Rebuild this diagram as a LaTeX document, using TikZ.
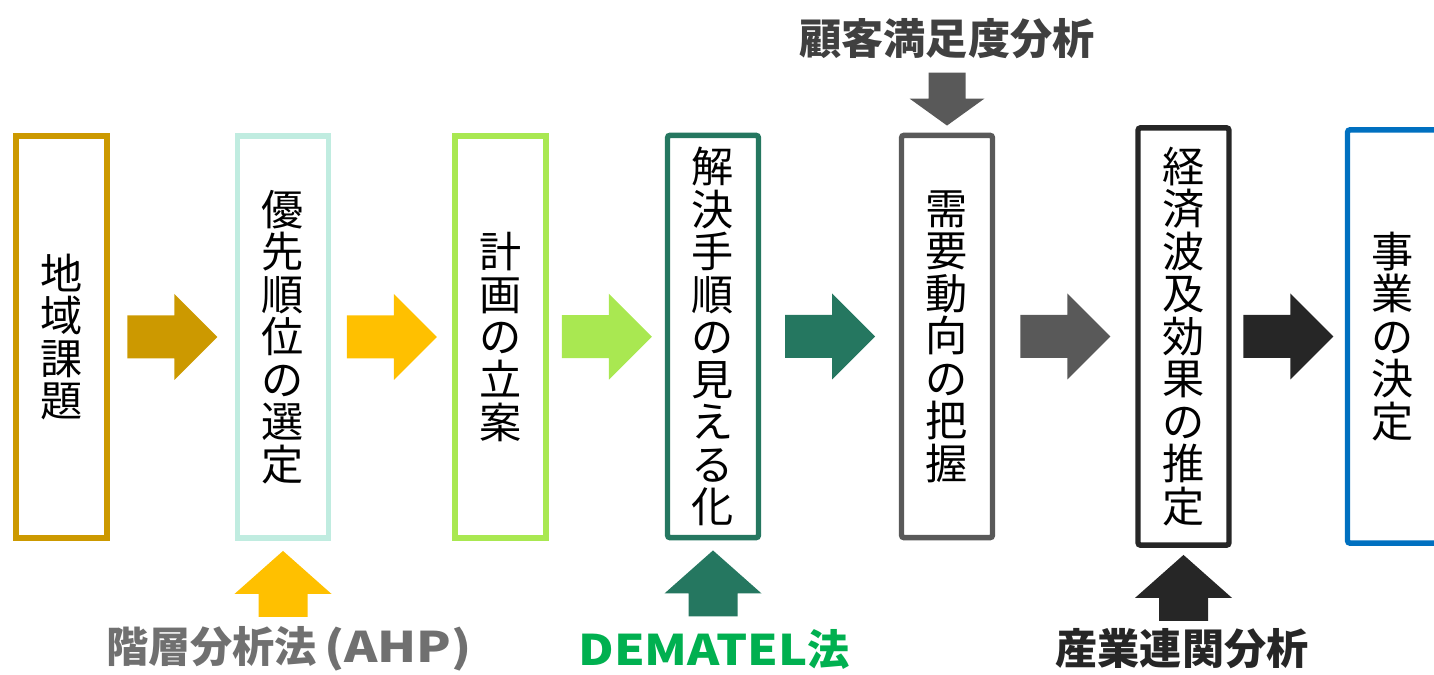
\documentclass[tikz,border=0pt]{standalone}
\usepackage{fontspec}
\setmainfont{Noto Sans CJK JP}
\usepackage{tikz}
\usepackage{xcolor}
\usepackage{graphicx}
\usetikzlibrary{calc,positioning}
\definecolor{boxgold}{HTML}{CC9900}
\definecolor{boxmint}{HTML}{C0ECE0}
\definecolor{boxamber}{HTML}{FFC000}
\definecolor{boxlime}{HTML}{A9E851}
\definecolor{boxpine}{HTML}{257760}
\definecolor{boxslate}{HTML}{595959}
\definecolor{boxink}{HTML}{262626}
\definecolor{boxazure}{HTML}{0070C0}
\definecolor{ahpgray}{HTML}{707070}
\definecolor{demgreen}{HTML}{00B050}
\definecolor{csgray}{HTML}{404040}
\tikzset{
	rarrow/.pic={\fill[#1] (-45,-21.5) -- (2,-21.5) -- (2,-43) -- (45,0) -- (2,43) -- (2,21.5) -- (-45,21.5) -- cycle;},
	uarrow/.pic={\fill[#1] (-24.5,23) -- (-24.5,0) -- (-48.5,0) -- (0,-43) -- (48.5,0) -- (24.5,0) -- (24.5,23) -- cycle;},
	darrow/.pic={\fill[#1] (-18.5,-26) -- (-18.5,0) -- (-37.5,0) -- (0,27) -- (37.5,0) -- (18.5,0) -- (18.5,-26) -- cycle;},
}
\begin{document}
\begin{tikzpicture}[x=0.02cm,y=-0.02cm,
		stepbox/.style={draw=#1,line width=3.1pt,minimum width=1.82cm,minimum height=8.05cm,inner sep=0pt,align=center,font=\fontsize{24}{24.2}\selectfont},
		method/.style={inner sep=0pt,font=\fontsize{24}{28}\selectfont\bfseries}]
	\useasboundingbox (0,0) rectangle (1434,675);
	\node[stepbox=boxgold] (b1) at (61.5,337) {地\\域\\課\\題};
	\node[stepbox=boxmint] (b2) at (283,337) {優\\先\\順\\位\\の\\選\\定};
	\node[stepbox=boxlime] (b3) at (500.5,337) {計\\画\\の\\立\\案};
	\node[stepbox=boxpine,rounded corners=1.5pt] (b4) at (713,336.5) {解\\決\\手\\順\\の\\見\\え\\る\\化};
	\node[stepbox=boxslate,rounded corners=1.5pt] (b5) at (947,336.5) {需\\要\\動\\向\\の\\把\\握};
	\node[stepbox=boxink,rounded corners=1.5pt,minimum height=8.35cm] (b6) at (1183.5,336.5) {経\\済\\波\\及\\効\\果\\の\\推\\定};
	\node[stepbox=boxazure,rounded corners=1.5pt,minimum height=8.27cm] (b7) at (1393,336.5) {事\\業\\の\\決\\定};
	\foreach \a/\b/\c in {b1/b2/boxgold,b2/b3/boxamber,b3/b4/boxlime,b4/b5/boxpine,b5/b6/boxslate,b6/b7/boxink}
		\pic at ($(\a.east)!0.5!(\b.west)$) {rarrow=\c};
	% methods feeding the steps
	\node[method,text=csgray] (cs) at (947,39) {顧客満足度分析};
	\pic at ($(cs.south)+(0,39)$) {darrow=boxslate};
	\node[method,text=ahpgray] (ahp) at (289,649) {階層分析法\,\scalebox{1.2}[1]{(AHP)}};
	\node[method,text=demgreen] (dem) at (714,649) {\scalebox{1.16}[1]{DEMATEL}法};
	\node[method,text=boxink] (io) at (1182,649) {産業連関分析};
	\pic at ($(b2.south)+(0,53)$) {uarrow=boxamber};
	\pic at ($(b4.south)+(0,53)$) {uarrow=boxpine};
	\pic at ($(b6.south)+(0,50)$) {uarrow=boxink};
\end{tikzpicture}
\end{document}
